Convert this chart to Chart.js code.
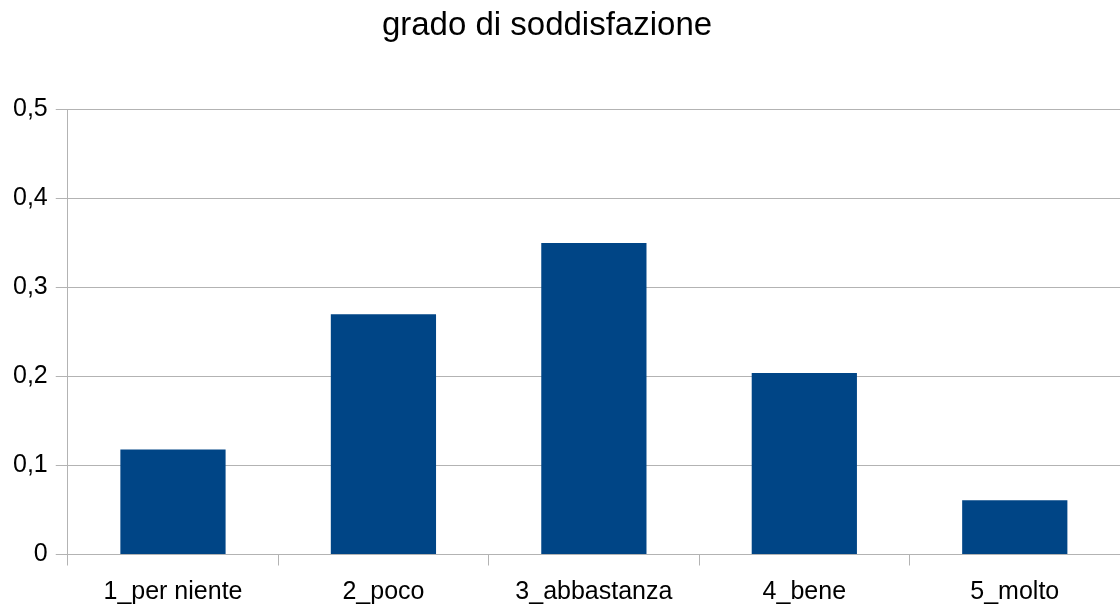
<!DOCTYPE html>
<html>
<head>
<meta charset="utf-8">
<script src="https://cdn.jsdelivr.net/npm/chart.js@4/dist/chart.umd.min.js"></script>
<style>
  html, body { margin: 0; padding: 0; background: #fff; }
  #wrap { width: 1120px; height: 608px; position: relative; }
</style>
</head>
<body>
<div id="wrap"><canvas id="c"></canvas></div>
<script>
const categories = ['1_per niente', '2_poco', '3_abbastanza', '4_bene', '5_molto']
const values = [0.118, 0.27, 0.35, 0.204, 0.061]
const chartTitle = 'grado di soddisfazione'

const gridColor = '#b3b3b3'
const fontFamily = 'Liberation Sans'

// title sits a little left of the canvas centre in the original
const titleDraw = {
  id: 'titleDraw',
  afterDraw(chart) {
    const ctx = chart.ctx
    ctx.save()
    ctx.font = `33px "${fontFamily}"`
    ctx.fillStyle = '#000'
    ctx.textAlign = 'center'
    ctx.textBaseline = 'middle'
    ctx.fillText(chartTitle, 547, 26)
    ctx.restore()
  },
}

new Chart(document.getElementById('c'), {
  type: 'bar',
  data: {
    labels: categories,
    datasets: [
      {
        label: chartTitle,
        data: values,
        backgroundColor: '#004586',
        borderWidth: 0,
        barPercentage: 0.5,
        categoryPercentage: 1,
      },
    ],
  },
  plugins: [titleDraw],
  options: {
    responsive: true,
    maintainAspectRatio: false,
    animation: false,
    locale: 'it-IT',
    layout: { padding: { left: 5, right: 0, top: 0, bottom: -11.5 } },
    plugins: {
      legend: { display: false },
      tooltip: { enabled: false },
      title: {
        // space holder only, the text is drawn by titleDraw
        display: true,
        text: chartTitle,
        color: 'rgba(0,0,0,0)',
        font: { family: fontFamily, size: 33, weight: 'normal' },
        padding: { top: 6, bottom: 64 },
      },
    },
    scales: {
      x: {
        offset: true,
        grid: {
          offset: true,
          drawOnChartArea: false,
          drawTicks: true,
          tickLength: 11,
          color: gridColor,
        },
        border: { color: gridColor },
        ticks: {
          color: '#000',
          padding: 12,
          maxRotation: 0,
          font: { family: fontFamily, size: 25 },
        },
      },
      y: {
        min: 0,
        max: 0.5,
        grid: { color: gridColor, tickLength: 12 },
        border: { color: gridColor },
        ticks: {
          stepSize: 0.1,
          color: '#000',
          padding: 8,
          font: { family: fontFamily, size: 25 },
        },
      },
    },
  },
})
</script>
</body>
</html>
